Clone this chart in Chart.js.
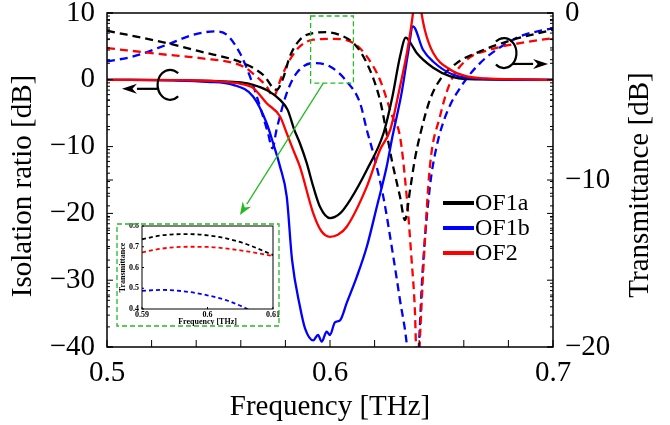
<!DOCTYPE html>
<html><head><meta charset="utf-8">
<script src="https://cdn.jsdelivr.net/npm/chart.js@4.4.1/dist/chart.umd.min.js"></script>
<style>
html,body{margin:0;padding:0;background:#fff;}
#wrap{position:relative;width:670px;height:425px;overflow:hidden;}
#main{position:absolute;left:0;top:0;}
#inset{position:absolute;left:116px;top:223px;}
</style></head><body>
<div id="wrap"><canvas id="main" width="670" height="425"></canvas><canvas id="inset" width="164" height="104"></canvas></div>
<script>
// ---------- data ----------
const seriesNames = ['OF1a', 'OF1b', 'OF2'];
const xTicks = [0.5, 0.6, 0.7];
const xMinorTicks = [0.52, 0.54, 0.56, 0.58, 0.62, 0.64, 0.66, 0.68];
const leftTicks = [-40, -30, -20, -10, 0, 10];
const rightTicks = [-20, -10, 0];
const leftTitle = 'Isolation ratio [dB]';
const rightTitle = 'Transmittance [dB]';

// Isolation ratio [dB] (solid, left axis)
const OF1a_isoF = [0.50,0.53,0.55,0.56,0.5655,0.572,0.5776,0.581,0.584,0.5865,0.5895,0.5925,0.5955,0.600,0.6045,0.609,0.6165,0.624,0.628,0.6314,0.634,0.6365,0.6389,0.6463,0.654,0.662,0.70];
const OF1a_iso  = [0,-0.05,-0.2,-0.4,-0.75,-1.6,-3,-4.5,-7.5,-9.5,-12.4,-16,-19,-20.7,-20,-18,-13.5,-8,-2.5,3.5,6.3,5.3,4,1.8,0.5,0.1,0];
const OF1b_isoF = [0.50,0.53,0.545,0.5566,0.5655,0.5716,0.5745,0.5776,0.5806,0.583,0.5865,0.5888,0.5925,0.5946,0.5963,0.5985,0.600,0.6022,0.6045,0.6075,0.612,0.6165,0.621,0.6254,0.628,0.6321,0.635,0.6372,0.6417,0.6463,0.6553,0.6686,0.70];
const OF1b_iso  = [0,-0.1,-0.3,-0.75,-2.5,-6.5,-9.5,-13,-17.5,-27,-33.9,-37.2,-39,-38.2,-39.2,-37.7,-38.2,-36.3,-36,-33.4,-29.5,-25,-19,-13,-8.5,-2,4,8,4.5,2.7,0.75,0.15,0];
const OF2_isoF  = [0.50,0.53,0.55,0.56,0.5655,0.5716,0.5776,0.5806,0.5835,0.5865,0.5925,0.596,0.600,0.6035,0.6075,0.6165,0.6224,0.627,0.6314,0.635,0.6374,0.639,0.6408,0.6425,0.6463,0.654,0.6614,0.67,0.70];
const OF2_iso   = [0,-0.05,-0.25,-0.6,-1.2,-3.5,-5.5,-8,-10.5,-13,-20,-22.6,-23.5,-23.2,-22,-16,-10.5,-7.5,-1,5,10.5,16,10.5,7.5,4,1.5,0.5,0.2,0];

// Transmittance [dB] (dashed, right axis)
const OF1a_trF = [0.50,0.5268,0.5417,0.561,0.570,0.576,0.579,0.582,0.5865,0.5925,0.5985,0.604,0.6105,0.6165,0.6224,0.6254,0.628,0.6314,0.6336,0.636,0.638,0.6404,0.6448,0.6493,0.6568,0.6673,0.682,0.70];
const OF1a_tr  = [-1.06,-1.8,-2.3,-3.0,-3.7,-4.6,-3.9,-2.6,-1.6,-1.2,-1.15,-1.3,-1.8,-3.0,-5.2,-7.2,-9,-11,-12.4,-10.5,-8.8,-7.3,-5.2,-4.0,-3.0,-2.3,-1.6,-1.0];
const OF1b_trF = [0.50,0.5118,0.5268,0.5388,0.5484,0.5537,0.5596,0.5641,0.5686,0.5722,0.5742,0.576,0.5806,0.585,0.5925,0.600,0.6075,0.6135,0.6165,0.6194,0.6239,0.6284,0.6314,0.6344,0.637,0.6396,0.6415,0.6448,0.6478,0.6523,0.6598,0.6673,0.6747,0.6852,0.70];
const OF1b_tr  = [-2.9,-2.6,-1.9,-1.3,-1.1,-1.3,-2.4,-3.8,-5.6,-7.2,-8.1,-7.0,-4.8,-3.6,-3.0,-3.2,-4.1,-5.4,-7.0,-8.4,-11,-14.6,-17.2,-19.8,-24,-20.5,-15.5,-10.4,-8.0,-6.0,-4.2,-3.0,-2.2,-1.4,-0.9];
const OF2_trF  = [0.50,0.5268,0.5417,0.561,0.567,0.5716,0.5746,0.5783,0.582,0.5865,0.5925,0.6015,0.6105,0.6165,0.6224,0.628,0.6314,0.6344,0.6366,0.638,0.6392,0.6405,0.6419,0.6448,0.6493,0.6538,0.6613,0.6717,0.6852,0.70];
const OF2_tr   = [-2.1,-2.5,-2.7,-3.2,-3.8,-4.4,-5.0,-3.8,-2.8,-2.0,-1.6,-1.55,-1.8,-2.6,-4.0,-6.2,-7.4,-11,-14.8,-17.6,-22,-19,-15.2,-9.2,-6.2,-4.2,-2.8,-2.2,-1.8,-1.5];

// Inset: linear transmittance, 0.59-0.61 THz
const insetF     = [0.590,0.593,0.597,0.600,0.603,0.606,0.610];
const insetOF1a  = [0.736,0.755,0.761,0.755,0.739,0.712,0.660];
const insetOF1b  = [0.487,0.492,0.483,0.466,0.441,0.401,0.330];
const insetOF2   = [0.673,0.691,0.700,0.699,0.691,0.678,0.655];
const insetXTicks = [0.59, 0.60, 0.61];
const insetYTicks = [0.4, 0.5, 0.6, 0.7, 0.8];

// ---------- styles ----------
const COLORS = {OF1a:'#000000', OF1b:'#0000ff', OF2:'#ff0000'};
const GREEN = '#22bb22';
const SERIF = '"Liberation Serif","Times New Roman",serif';
Chart.defaults.font.family = SERIF;
Chart.defaults.color = '#000';

const pts = (fx, vy) => fx.map((f, i) => ({x: f, y: vy[i]}));
const fmt = v => (v < 0 ? '\u2212' + Math.abs(v) : String(v));
const noPad = s => { s.paddingTop = 0; s.paddingBottom = 0; s.paddingLeft = 0; s.paddingRight = 0; };

function solid(name, fx, vy, order) {
  return {label: name, data: pts(fx, vy), yAxisID: 'yL', borderColor: COLORS[name],
    borderWidth: 2.3, pointRadius: 0, cubicInterpolationMode: 'monotone', fill: false, order};
}
function dashed(name, fx, vy, order) {
  return {label: name + ' T', data: pts(fx, vy), yAxisID: 'yR', borderColor: COLORS[name],
    borderWidth: 2.3, borderDash: [8, 5], pointRadius: 0, cubicInterpolationMode: 'monotone', fill: false, order};
}

function arrow(ctx, x1, y1, x2, y2, color, lw, hl, hw) {
  ctx.save();
  ctx.strokeStyle = color; ctx.fillStyle = color; ctx.lineWidth = lw; ctx.setLineDash([]);
  const ang = Math.atan2(y2 - y1, x2 - x1);
  const bx = x2 - hl * Math.cos(ang), by = y2 - hl * Math.sin(ang);
  ctx.beginPath(); ctx.moveTo(x1, y1); ctx.lineTo(bx, by); ctx.stroke();
  ctx.beginPath();
  ctx.moveTo(x2, y2);
  ctx.lineTo(bx + hw * Math.sin(ang), by - hw * Math.cos(ang));
  ctx.lineTo(x2 - 0.7 * hl * Math.cos(ang), y2 - 0.7 * hl * Math.sin(ang));
  ctx.lineTo(bx - hw * Math.sin(ang), by + hw * Math.cos(ang));
  ctx.closePath(); ctx.fill();
  ctx.restore();
}

function vTitle(ctx, text, cx, cy) {
  ctx.save();
  ctx.translate(cx, cy);
  ctx.rotate(-Math.PI / 2);
  ctx.font = '29px ' + SERIF; ctx.textAlign = 'center'; ctx.textBaseline = 'middle'; ctx.fillStyle = '#000';
  ctx.fillText(text, 0, 0);
  ctx.restore();
}

const mainDecor = {
  id: 'mainDecor',
  afterDatasetsDraw(chart) {
    const {ctx, chartArea: a, scales} = chart;
    const x = scales.x, yL = scales.yL, yR = scales.yR;
    const D = Math.PI / 180;
    ctx.save();
    // frame
    ctx.strokeStyle = '#000'; ctx.lineWidth = 1.5; ctx.setLineDash([]);
    ctx.strokeRect(a.left, a.top, a.right - a.left, a.bottom - a.top);
    // x ticks
    ctx.lineWidth = 1;
    ctx.beginPath();
    xTicks.concat(xMinorTicks).forEach(v => {
      const px = x.getPixelForValue(v);
      ctx.moveTo(px, a.bottom); ctx.lineTo(px, a.bottom - 7);
    });
    // y ticks (both sides, log-style minor ticks)
    const tickY = (scale, majors) => {
      majors.forEach(v => {
        const py = scale.getPixelForValue(v);
        ctx.moveTo(a.left, py); ctx.lineTo(a.left + 6, py);
        ctx.moveTo(a.right, py); ctx.lineTo(a.right - 6, py);
      });
      for (let i = 0; i < majors.length - 1; i++) {
        for (let k = 2; k <= 9; k++) {
          const v = majors[i] + 10 * Math.log10(k);
          const py = scale.getPixelForValue(v);
          ctx.moveTo(a.left, py); ctx.lineTo(a.left + 3, py);
          ctx.moveTo(a.right, py); ctx.lineTo(a.right - 3, py);
        }
      }
    };
    tickY(yL, leftTicks);
    tickY(yR, rightTicks);
    ctx.stroke();

    // green zoom box
    ctx.strokeStyle = GREEN; ctx.lineWidth = 1.3; ctx.setLineDash([5, 3]);
    const bx0 = x.getPixelForValue(0.5913), bx1 = x.getPixelForValue(0.6105);
    const by0 = yR.getPixelForValue(-0.18), by1 = yR.getPixelForValue(-4.2);
    ctx.strokeRect(bx0, by0, bx1 - bx0, by1 - by0);
    ctx.setLineDash([]);
    arrow(ctx, x.getPixelForValue(0.597), by1, x.getPixelForValue(0.5596), yR.getPixelForValue(-12.1), GREEN, 1.3, 13, 5);

    // loop symbols
    ctx.strokeStyle = '#000'; ctx.lineWidth = 2.2;
    const lcx = x.getPixelForValue(0.5283), lcy = yL.getPixelForValue(-0.75);
    ctx.beginPath(); ctx.ellipse(lcx, lcy, 12.5, 15, 0, 50 * D, 310 * D); ctx.stroke();
    const ly = yL.getPixelForValue(-1.35);
    arrow(ctx, lcx - 11, ly, x.getPixelForValue(0.5067), ly, '#000', 2.2, 15, 5);
    const rcx = x.getPixelForValue(0.678), rcy = yR.getPixelForValue(-2.4);
    ctx.beginPath(); ctx.ellipse(rcx, rcy, 12.5, 15, 0, -130 * D, 130 * D); ctx.stroke();
    const ry = yR.getPixelForValue(-3.05);
    arrow(ctx, rcx + 8, ry, x.getPixelForValue(0.6978), ry, '#000', 2.2, 15, 5);

    // legend
    ctx.font = '24px ' + SERIF; ctx.textBaseline = 'middle'; ctx.textAlign = 'left';
    seriesNames.forEach((n, i) => {
      const yy = 203 + 25 * i;
      ctx.strokeStyle = COLORS[n]; ctx.lineWidth = 4;
      ctx.beginPath(); ctx.moveTo(443, yy); ctx.lineTo(474, yy); ctx.stroke();
      ctx.fillStyle = '#000'; ctx.fillText(n, 475, yy + 1);
    });

    // vertical axis titles (both read bottom-to-top)
    vTitle(ctx, leftTitle, 23, 186);
    vTitle(ctx, rightTitle, 640, 185);
    ctx.restore();
  }
};

new Chart(document.getElementById('main'), {
  type: 'line',
  data: {datasets: [
    dashed('OF1b', OF1b_trF, OF1b_tr, 6),
    dashed('OF2', OF2_trF, OF2_tr, 5),
    dashed('OF1a', OF1a_trF, OF1a_tr, 4),
    solid('OF1a', OF1a_isoF, OF1a_iso, 3),
    solid('OF1b', OF1b_isoF, OF1b_iso, 2),
    solid('OF2', OF2_isoF, OF2_iso, 1)
  ]},
  options: {
    responsive: false, animation: false,
    layout: {padding: {top: 13, left: 0, right: 0, bottom: 0}},
    plugins: {legend: {display: false}, tooltip: {enabled: false}},
    scales: {
      x: {type: 'linear', position: 'bottom', min: 0.5, max: 0.7,
        grid: {display: false, drawTicks: false}, border: {display: false},
        afterBuildTicks: s => { s.ticks = xTicks.map(v => ({value: v})); },
        afterFit: s => { s.height = 78; noPad(s); },
        ticks: {font: {size: 29}, color: '#000', padding: 9, maxRotation: 0, callback: v => v.toFixed(1)},
        title: {display: true, text: 'Frequency [THz]', font: {size: 29}, color: '#000', padding: {top: 0, bottom: 0}}},
      yL: {type: 'linear', position: 'left', min: -40, max: 10,
        grid: {display: false, drawTicks: false}, border: {display: false},
        afterBuildTicks: s => { s.ticks = leftTicks.map(v => ({value: v})); },
        afterFit: s => { s.width = 107; noPad(s); },
        ticks: {font: {size: 29}, color: '#000', padding: 12, callback: v => fmt(v)},
        title: {display: false}},
      yR: {type: 'linear', position: 'right', min: -20, max: 0,
        grid: {display: false, drawTicks: false}, border: {display: false},
        afterBuildTicks: s => { s.ticks = rightTicks.map(v => ({value: v})); },
        afterFit: s => { s.width = 117; noPad(s); },
        ticks: {font: {size: 29}, color: '#000', padding: 12, callback: v => fmt(v)},
        title: {display: false}}
    }
  },
  plugins: [mainDecor]
});

// ---------- inset ----------
const insetDecor = {
  id: 'insetDecor',
  beforeDraw(chart) {
    const {ctx, width, height} = chart;
    ctx.save(); ctx.fillStyle = '#fff'; ctx.fillRect(0, 0, width, height); ctx.restore();
  },
  afterDraw(chart) {
    const {ctx, chartArea: a, width, height, scales} = chart;
    ctx.save();
    ctx.strokeStyle = '#000'; ctx.lineWidth = 1; ctx.setLineDash([]);
    ctx.strokeRect(a.left, a.top, a.right - a.left, a.bottom - a.top);
    ctx.beginPath();
    insetXTicks.forEach(v => { const p = scales.x.getPixelForValue(v); ctx.moveTo(p, a.bottom); ctx.lineTo(p, a.bottom - 2); });
    insetYTicks.forEach(v => { const p = scales.y.getPixelForValue(v); ctx.moveTo(a.left, p); ctx.lineTo(a.left + 2, p); });
    ctx.stroke();
    ctx.strokeStyle = GREEN; ctx.lineWidth = 1.3; ctx.setLineDash([5, 3]);
    ctx.strokeRect(1, 1, width - 2, height - 2);
    ctx.restore();
  }
};
const insetDs = (name, vals) => ({label: name, data: pts(insetF, vals), borderColor: COLORS[name],
  borderWidth: 1.8, borderDash: [4, 3], pointRadius: 0, cubicInterpolationMode: 'monotone', fill: false});
const smallFont = {size: 8, weight: 'bold', family: SERIF};
new Chart(document.getElementById('inset'), {
  type: 'line',
  data: {datasets: [insetDs('OF1a', insetOF1a), insetDs('OF2', insetOF2), insetDs('OF1b', insetOF1b)]},
  options: {
    responsive: false, animation: false,
    layout: {padding: {top: 3, right: 7, left: 0, bottom: 0}},
    plugins: {legend: {display: false}, tooltip: {enabled: false}},
    scales: {
      x: {type: 'linear', min: 0.59, max: 0.61, grid: {display: false, drawTicks: false}, border: {display: false},
        afterBuildTicks: s => { s.ticks = insetXTicks.map(v => ({value: v})); },
        afterFit: s => { s.height = 18; noPad(s); },
        ticks: {font: smallFont, color: '#000', padding: 1, maxRotation: 0, callback: v => String(Math.round(v * 100) / 100)},
        title: {display: true, text: 'Frequency [THz]', font: smallFont, color: '#000', padding: {top: 0, bottom: 0}}},
      y: {type: 'linear', min: 0.4, max: 0.8, grid: {display: false, drawTicks: false}, border: {display: false},
        afterBuildTicks: s => { s.ticks = insetYTicks.map(v => ({value: v})); },
        afterFit: s => { s.width = 26; noPad(s); },
        ticks: {font: smallFont, color: '#000', padding: 3, callback: v => v.toFixed(1)},
        title: {display: true, text: 'Transmittance', font: smallFont, color: '#000', padding: {top: 2, bottom: 0}}}
    }
  },
  plugins: [insetDecor]
});
</script>
</body></html>
